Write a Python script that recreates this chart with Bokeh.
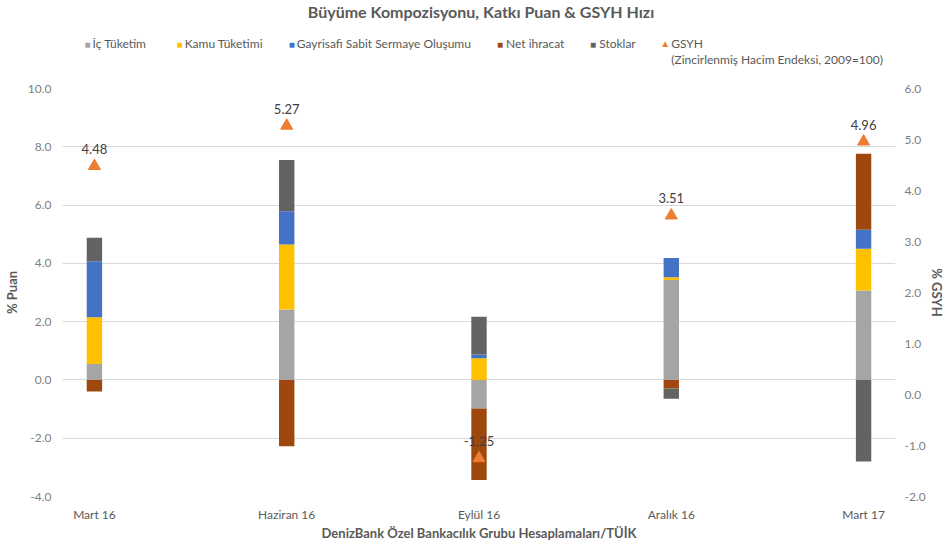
import numpy as np
from bokeh.plotting import figure
from bokeh.layouts import column
from bokeh.models import (Range1d, LinearAxis, FixedTicker, Label, NumeralTickFormatter,
                          ColumnDataSource)
from bokeh.core.properties import value
from bokeh.embed import file_html
from bokeh.resources import INLINE

categories = ["Mart 16", "Haziran 16", "Eylül 16", "Aralık 16", "Mart 17"]
ic_tuketim = [0.55, 2.42, -0.98, 3.43, 3.07]
kamu_tuketimi = [1.60, 2.23, 0.74, 0.09, 1.43]
gsso = [1.92, 1.14, 0.13, 0.66, 0.65]
net_ihracat = [-0.40, -2.28, -2.45, -0.29, 2.61]
stoklar = [0.81, 1.76, 1.30, -0.36, -2.80]
gsyh = [4.48, 5.27, -1.25, 3.51, 4.96]
left_ticks = [-4, -2, 0, 2, 4, 6, 8, 10]
right_ticks = [-2, -1, 0, 1, 2, 3, 4, 5, 6]

series_names = ["İç Tüketim", "Kamu Tüketimi", "Gayrisafi Sabit Sermaye Oluşumu", "Net ihracat", "Stoklar"]
series_colors = ["#A5A5A5", "#FFC000", "#4472C4", "#9E480E", "#636363"]
series_vals = [ic_tuketim, kamu_tuketimi, gsso, net_ihracat, stoklar]
gsyh_name = "GSYH"
gsyh_sub = "(Zincirlenmiş Hacim Endeksi, 2009=100)"
title_text = "Büyüme Kompozisyonu, Katkı Puan & GSYH Hızı"
source_text = "DenizBank Özel Bankacılık Grubu Hesaplamaları/TÜİK"

FONT = "Lato"
W = 947
HH = 80          # header height
MH = 467         # main figure height
FRAME_L, FRAME_R = 62, 894   # header frame is aligned with the main frame in the column

# ---------------- header (title + legend) ----------------
h = figure(width=W, height=HH, output_backend="svg", toolbar_location=None, title=None,
           x_range=Range1d(FRAME_L, FRAME_R), y_range=Range1d(0, HH), min_border=0,
           x_axis_location=None, y_axis_location=None)
h.grid.visible = False
h.outline_line_color = None

def htext(txt, xw, yw, size="12px", color="#595959", style="normal", align="left"):
    h.add_layout(Label(x=xw, y=HH - yw, text=txt, text_font=FONT, text_font_size=size,
                       text_color=color, text_font_style=style, text_align=align,
                       text_baseline="middle"))

htext(title_text, 480, 11, size="16px", style="bold", align="center")
leg_sq = [87, 179, 291, 499, 592]
leg_tx = [92, 184, 296, 505, 598]
for name, col, sx, tx in zip(series_names, series_colors, leg_sq, leg_tx):
    htext("■", sx, 43, size="10px", color=col, align="center")
    htext(name, tx, 43)
htext("▲", 664, 42, size="10px", color="#ED7D31", align="center")
htext(gsyh_name, 670, 43)
htext(gsyh_sub, 670, 59)

# ---------------- main chart ----------------
p = figure(width=W, height=MH, output_backend="svg", toolbar_location=None, title=None,
           x_range=Range1d(-0.166, 4.166), y_range=Range1d(-4, 10),
           min_border_left=62, min_border_right=50, min_border_top=8, min_border_bottom=51)
p.outline_line_color = None
p.extra_y_ranges = {"gsyh": Range1d(-2, 6)}

x = np.arange(len(categories))
pos = np.zeros(len(categories))
neg = np.zeros(len(categories))
for name, col, vals in zip(series_names, series_colors, series_vals):
    v = np.array(vals, dtype=float)
    base = np.where(v >= 0, pos, neg)
    top = base + v
    pos = np.where(v >= 0, top, pos)
    neg = np.where(v < 0, top, neg)
    src = ColumnDataSource(dict(x=x, bottom=np.minimum(base, top), top=np.maximum(base, top)))
    p.vbar(x="x", bottom="bottom", top="top", width=0.08, source=src,
           fill_color=col, line_color=None)

gsrc = ColumnDataSource(dict(x=x, y=gsyh, lab=[f"{g:.2f}" for g in gsyh]))
p.scatter(x="x", y="y", source=gsrc, marker="triangle", size=12,
          fill_color="#ED7D31", line_color="#ED7D31", y_range_name="gsyh")
p.text(x="x", y="y", text="lab", source=gsrc, y_range_name="gsyh",
       text_align="center", text_baseline="bottom", y_offset=-12,
       text_font=value(FONT), text_font_size="13px", text_color="#404040")

p.xaxis.ticker = FixedTicker(ticks=list(range(len(categories))))
p.xaxis.major_label_overrides = {i: c for i, c in enumerate(categories)}
p.xaxis.axis_label = source_text
p.yaxis.ticker = FixedTicker(ticks=left_ticks)
p.yaxis.formatter = NumeralTickFormatter(format="0.0")
p.yaxis.axis_label = "% Puan"

ra = LinearAxis(y_range_name="gsyh", ticker=FixedTicker(ticks=right_ticks),
                formatter=NumeralTickFormatter(format="0.0"), axis_label="% GSYH")
p.add_layout(ra, "right")

for ax in [p.xaxis[0], p.yaxis[0], ra]:
    ax.axis_line_color = None
    ax.major_tick_line_color = None
    ax.minor_tick_line_color = None
    ax.major_tick_in = 0
    ax.major_tick_out = 0
    ax.major_label_text_font = FONT
    ax.major_label_text_font_size = "12px"
    ax.major_label_text_color = "#7F7F7F"
    ax.axis_label_text_font = FONT
    ax.axis_label_text_font_size = "13px"
    ax.axis_label_text_font_style = "bold"
    ax.axis_label_text_color = "#595959"
p.xaxis.major_label_text_color = "#595959"
p.xaxis.major_label_standoff = 10
p.xaxis.axis_label_standoff = 0
p.yaxis.major_label_standoff = 11
p.yaxis.axis_label_standoff = 5
ra.major_label_standoff = 9
ra.axis_label_standoff = 0

p.xgrid.grid_line_color = None
p.ygrid.grid_line_color = "#D9D9D9"
p.ygrid.ticker = FixedTicker(ticks=left_ticks)

layout = column(h, p, spacing=0)
open("out.html", "w").write(file_html(layout, INLINE))
